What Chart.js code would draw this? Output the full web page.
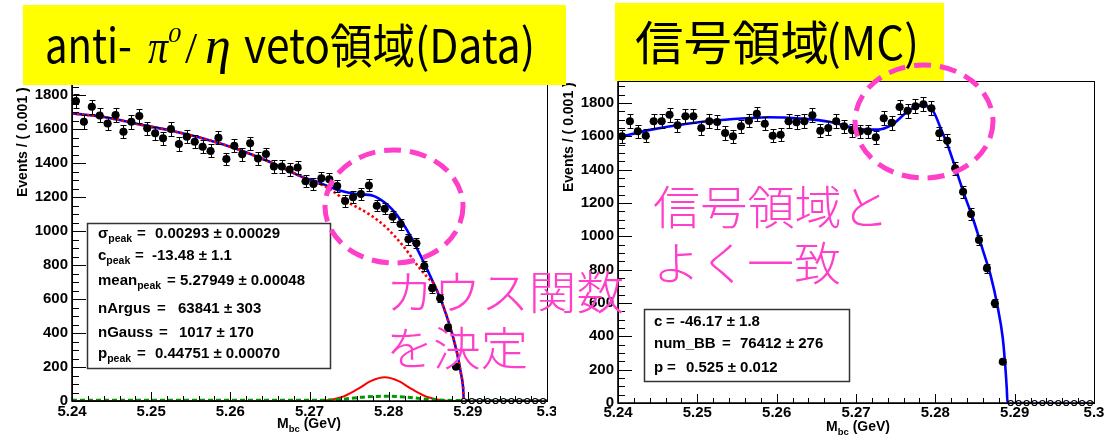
<!DOCTYPE html>
<html>
<head>
<meta charset="utf-8">
<script src="https://cdn.jsdelivr.net/npm/chart.js@4.4.1/dist/chart.umd.min.js"></script>
<style>
  html, body { margin: 0; padding: 0; background: #fff; }
  #page { position: relative; width: 1105px; height: 437px; overflow: hidden; background: #fff; }
  .pane { position: absolute; top: 0; height: 437px; overflow: hidden; }
  .pane canvas { display: block; }
  #overlay { position: absolute; left: 0; top: 0; pointer-events: none; }
</style>
</head>
<body>
<div id="page">
  <div class="pane" style="left:0;width:556px">
    <canvas id="vetoChart" width="600" height="437" style="width:600px;height:437px"></canvas>
  </div>
  <div class="pane" style="left:556px;width:549px">
    <canvas id="signalChart" width="600" height="437" style="width:600px;height:437px"></canvas>
  </div>
  <svg id="overlay" width="1105" height="437" xmlns="http://www.w3.org/2000/svg">
    <!-- panel headings -->
    <rect x="23" y="5" width="543" height="80" fill="#ffff00"/>
    <rect x="615" y="3" width="329" height="78" fill="#ffff00"/>
    <g font-family="'Noto Sans CJK JP', 'Noto Sans', sans-serif" fill="#000">
      <text x="45" y="63" font-size="47" textLength="87" lengthAdjust="spacingAndGlyphs">anti-</text>
      <text x="244" y="63" font-size="47" textLength="291" lengthAdjust="spacingAndGlyphs">veto領域(Data)</text>
      <text x="635" y="60" font-size="47" textLength="194" lengthAdjust="spacingAndGlyphs">信号領域</text>
      <text x="826" y="60" font-size="47" textLength="93" lengthAdjust="spacingAndGlyphs">(MC)</text>
    </g>
    <g font-family="'Liberation Serif', 'DejaVu Serif', serif" font-style="italic" fill="#000">
      <text x="148" y="63" font-size="48" textLength="20" lengthAdjust="spacingAndGlyphs">π</text>
      <text x="168" y="42" font-size="21" textLength="13" lengthAdjust="spacingAndGlyphs">0</text>
      <text x="185" y="63" font-size="44" font-style="normal">/</text>
      <text x="205" y="63" font-size="52">η</text>
    </g>
    <!-- highlighted regions -->
    <g fill="none" stroke="#ff3ec9" stroke-width="5" stroke-dasharray="17 9">
      <ellipse cx="394" cy="206.5" rx="69" ry="56.5"/>
      <ellipse cx="924" cy="121.5" rx="69" ry="56.5"/>
    </g>
    <g font-family="'Noto Sans CJK JP', sans-serif" font-weight="300" font-size="46" fill="#ff3ec9">
      <text x="386" y="309" textLength="238" lengthAdjust="spacingAndGlyphs">カウス関数</text>
      <text x="386" y="365" textLength="142" lengthAdjust="spacingAndGlyphs">を決定</text>
      <text x="653" y="224" textLength="236" lengthAdjust="spacingAndGlyphs">信号領域と</text>
      <text x="653" y="280" textLength="188" lengthAdjust="spacingAndGlyphs">よく一致</text>
    </g>
  </svg>
</div>
<script>
// Histogram binning and axis ticks
const histMin = 5.24;
const histMax = 5.30;
const binWidth = 0.001;
const xTickValues = [5.24, 5.25, 5.26, 5.27, 5.28, 5.29, 5.30];
const xTickLabels = ['5.24', '5.25', '5.26', '5.27', '5.28', '5.29', '5.3'];
const yTickValues = [0, 200, 400, 600, 800, 1000, 1200, 1400, 1600, 1800];

// Events per 1 MeV bin, anti-veto sideband (data)
const vetoCounts = [
  1765, 1642, 1731, 1680, 1633, 1682, 1584, 1643, 1676, 1604,
  1575, 1545, 1600, 1512, 1555, 1525, 1496, 1471, 1549, 1424,
  1502, 1451, 1516, 1427, 1453, 1380, 1380, 1362, 1373, 1292,
  1277, 1310, 1304, 1265, 1176, 1198, 1218, 1268, 1149, 1131,
  1084, 1041, 951, 928, 794, 663, 604, 433, 202, 0,
  0, 0, 0, 0, 0, 0, 0, 0, 0, 0
];

// Events per 1 MeV bin, signal region (MC)
const signalCounts = [
  1600, 1690, 1630, 1604, 1690, 1690, 1730, 1666, 1720, 1720,
  1650, 1690, 1686, 1620, 1600, 1660, 1694, 1736, 1676, 1604,
  1610, 1690, 1684, 1690, 1726, 1634, 1650, 1690, 1660, 1636,
  1630, 1630, 1594, 1709, 1681, 1776, 1754, 1781, 1792, 1769,
  1618, 1574, 1408, 1268, 1134, 978, 808, 598, 248, 0,
  0, 0, 0, 0, 0, 0, 0, 0, 0, 0
];

// Fitted curves, [Mbc, events]
const vetoTotalFit = [
  [5.2400, 1692], [5.2442, 1669], [5.2484, 1628], [5.2527, 1588], [5.2569, 1540],
  [5.2611, 1478], [5.2653, 1400], [5.2695, 1310], [5.2710, 1290], [5.2721, 1268],
  [5.2738, 1238], [5.2759, 1218], [5.2780, 1208], [5.2795, 1168], [5.2805, 1124],
  [5.2815, 1065], [5.2828, 967], [5.2843, 829], [5.2857, 690], [5.2868, 570],
  [5.2878, 430], [5.2886, 290], [5.2891, 170], [5.2894, 80], [5.2895, 0], [5.3000, 0]
];
const vetoArgusFit = [
  [5.2400, 1692], [5.2442, 1669], [5.2484, 1628], [5.2527, 1588], [5.2569, 1540],
  [5.2611, 1478], [5.2653, 1400], [5.2695, 1310], [5.2710, 1283], [5.2725, 1248],
  [5.2748, 1172], [5.2777, 1094], [5.2798, 1016], [5.2819, 908], [5.2836, 800],
  [5.2850, 722], [5.2857, 690], [5.2868, 570], [5.2878, 430], [5.2886, 290],
  [5.2891, 170], [5.2894, 80], [5.2895, 0], [5.3000, 0]
];
const vetoGaussFit = [
  [5.2400, 0], [5.2700, 0], [5.2720, 3], [5.2740, 22], [5.2760, 68], [5.2778, 118],
  [5.2795, 139], [5.2812, 118], [5.2830, 68], [5.2850, 22], [5.2870, 3], [5.2890, 0], [5.3000, 0]
];
const vetoPeakingFit = [
  [5.2400, 5], [5.2720, 5], [5.2745, 12], [5.2770, 24], [5.2795, 28], [5.2820, 24],
  [5.2845, 12], [5.2870, 5], [5.2895, 3], [5.3000, 2]
];
const signalTotalFit = [
  [5.2400, 1594], [5.2442, 1640], [5.2485, 1674], [5.2526, 1696], [5.2568, 1710],
  [5.2589, 1714], [5.2631, 1706], [5.2668, 1686], [5.2693, 1656], [5.2712, 1640],
  [5.2728, 1640], [5.2745, 1668], [5.2765, 1748], [5.2781, 1787], [5.2790, 1780],
  [5.2798, 1745], [5.2807, 1645], [5.2816, 1540], [5.2826, 1400], [5.2836, 1258],
  [5.2848, 1098], [5.2861, 900], [5.2870, 760], [5.2878, 590], [5.2885, 390],
  [5.2888, 230], [5.2890, 90], [5.2891, 0], [5.3000, 0]
];

// Fit results printed in the parameter boxes
const vetoStats = [
  { name: 'σ', sub: 'peak', value: '0.00293 ± 0.00029' },
  { name: 'c', sub: 'peak', value: '-13.48 ± 1.1' },
  { name: 'mean', sub: 'peak', value: '5.27949 ± 0.00048' },
  { name: 'nArgus', sub: '', value: '63841 ± 303' },
  { name: 'nGauss', sub: '', value: '1017 ± 170' },
  { name: 'p', sub: 'peak', value: '0.44751 ± 0.00070' }
];
const signalStats = [
  { name: 'c', sub: '', value: '-46.17 ± 1.8' },
  { name: 'num_BB', sub: '', value: '76412 ± 276' },
  { name: 'p', sub: '', value: '0.525 ± 0.012' }
];

const SANS = "'Liberation Sans', Arial, Helvetica, sans-serif";
Chart.defaults.font.family = SANS;
Chart.defaults.color = '#000';

function toPoints(pairs) {
  return pairs.map(([x, y]) => ({ x, y }));
}
function binPoints(counts) {
  return counts.map((c, i) => ({ x: +(histMin + (i + 0.5) * binWidth).toFixed(4), y: c }));
}
function curve(pairs, color, width, dash) {
  return {
    data: toPoints(pairs),
    showLine: true,
    borderColor: color,
    borderWidth: width,
    borderDash: dash || [],
    borderCapStyle: 'butt',
    pointRadius: 0,
    pointHoverRadius: 0,
    cubicInterpolationMode: 'monotone',
    fill: false
  };
}
function histogram(counts) {
  const empty = ctx => ctx.raw && ctx.raw.y === 0;
  return {
    data: binPoints(counts),
    showLine: false,
    clip: false,
    pointStyle: 'circle',
    pointRadius: ctx => (empty(ctx) ? 2.5 : 4),
    pointHoverRadius: ctx => (empty(ctx) ? 2.5 : 4),
    pointBackgroundColor: ctx => (empty(ctx) ? '#ffffff' : '#000000'),
    pointBorderColor: '#000000',
    pointBorderWidth: ctx => (empty(ctx) ? 1.2 : 0)
  };
}

// Draws a label with an optional subscript; returns the end x
function richText(ctx, x, y, name, sub, size, subSize, drop) {
  ctx.font = 'bold ' + size + 'px ' + SANS;
  ctx.fillText(name, x, y);
  let end = x + ctx.measureText(name).width;
  if (sub) {
    ctx.font = 'bold ' + subSize + 'px ' + SANS;
    ctx.fillText(sub, end, y + drop);
    end += ctx.measureText(sub).width;
  }
  return end;
}

// ROOT-like pad decoration: inward ticks, frame, error bars, axis titles, parameter box
const rootPad = {
  id: 'rootPad',
  beforeDatasetDraw(chart, args) {
    if (args.index !== 0) return;
    const { ctx, scales: { x, y } } = chart;
    const pts = chart.data.datasets[0].data;
    ctx.save();
    ctx.strokeStyle = '#000';
    ctx.lineWidth = 1;
    pts.forEach(p => {
      const px = Math.round(x.getPixelForValue(p.x)) + 0.5;
      const py = Math.round(y.getPixelForValue(p.y)) + 0.5;
      const x0 = x.getPixelForValue(p.x - binWidth / 2);
      const x1 = x.getPixelForValue(p.x + binWidth / 2);
      ctx.beginPath();
      ctx.moveTo(x0, py);
      ctx.lineTo(x1, py);
      if (p.y > 0) {
        const err = Math.sqrt(p.y);
        const yt = Math.round(y.getPixelForValue(p.y + err)) + 0.5;
        const yb = Math.round(y.getPixelForValue(p.y - err)) + 0.5;
        ctx.moveTo(px, yt); ctx.lineTo(px, yb);
        ctx.moveTo(px - 3, yt); ctx.lineTo(px + 3, yt);
        ctx.moveTo(px - 3, yb); ctx.lineTo(px + 3, yb);
      }
      ctx.stroke();
    });
    ctx.restore();
  },
  afterDatasetsDraw(chart, args, opts) {
    const { ctx, chartArea: a, scales: { x, y } } = chart;
    ctx.save();
    ctx.fillStyle = '#000';
    ctx.strokeStyle = '#000';

    // inward ticks on the y axis: major every 200, minor every 50
    ctx.lineWidth = 1;
    ctx.beginPath();
    for (let v = 0; v <= y.max; v += 50) {
      const py = Math.round(y.getPixelForValue(v)) + 0.5;
      const len = v % 200 === 0 ? 14 : 7;
      ctx.moveTo(a.left, py);
      ctx.lineTo(a.left + len, py);
    }
    // inward ticks on the x axis: major every 0.01, minor every 0.002
    for (let i = 0; i <= 30; i++) {
      const px = Math.round(x.getPixelForValue(histMin + i * 0.002)) + 0.5;
      const len = i % 5 === 0 ? 9 : 5;
      ctx.moveTo(px, a.bottom);
      ctx.lineTo(px, a.bottom - len);
    }
    ctx.stroke();

    // frame
    ctx.lineWidth = 1;
    ctx.strokeRect(Math.round(a.left) + 0.5, Math.round(a.top) + 0.5,
      Math.round(a.right - a.left), Math.round(a.bottom - a.top));
    ctx.lineWidth = 1.6;
    ctx.beginPath();
    ctx.moveTo(a.left, a.top);
    ctx.lineTo(a.left, a.bottom);
    ctx.lineTo(a.right, a.bottom);
    ctx.stroke();

    // axis titles
    ctx.textBaseline = 'alphabetic';
    ctx.textAlign = 'left';
    ctx.save();
    ctx.translate(opts.yTitle.x, opts.yTitle.y);
    ctx.rotate(-Math.PI / 2);
    ctx.font = 'bold 14px ' + SANS;
    ctx.fillText('Events / ( 0.001 )', 0, 0);
    ctx.restore();
    const mEnd = richText(ctx, opts.xTitle.x, opts.xTitle.y, 'M', 'bc', 14, 9.5, 4);
    ctx.font = 'bold 14px ' + SANS;
    ctx.fillText(' (GeV)', mEnd, opts.xTitle.y);

    // parameter box
    const s = opts.stat;
    ctx.fillStyle = '#fff';
    ctx.fillRect(s.box[0], s.box[1], s.box[2], s.box[3]);
    ctx.strokeStyle = '#333';
    ctx.lineWidth = 1.5;
    ctx.strokeRect(s.box[0] + 0.5, s.box[1] + 0.5, s.box[2], s.box[3]);
    ctx.fillStyle = '#000';
    s.entries.forEach((e, i) => {
      const row = s.rows[i];
      richText(ctx, s.textX, row.base, e.name, e.sub, 15, 10.5, 4);
      ctx.font = 'bold 15px ' + SANS;
      ctx.fillText('=', row.eq, row.base);
      ctx.fillText(e.value, row.val, row.base);
    });
    ctx.restore();
  }
};

function makePad(canvasId, cfg) {
  return new Chart(document.getElementById(canvasId), {
    type: 'scatter',
    data: { datasets: [histogram(cfg.counts)].concat(cfg.curves) },
    options: {
      responsive: false,
      animation: false,
      events: [],
      layout: { padding: { left: 0, right: cfg.padRight, top: cfg.padTop, bottom: 0 } },
      plugins: {
        legend: { display: false },
        tooltip: { enabled: false },
        rootPad: cfg.decor
      },
      scales: {
        x: {
          type: 'linear',
          min: histMin,
          max: histMax,
          afterBuildTicks: sc => { sc.ticks = xTickValues.map(v => ({ value: v })); },
          afterFit: sc => { sc.height = cfg.xAxisHeight; },
          grid: { display: false, drawTicks: false },
          border: { display: false },
          ticks: {
            autoSkip: false,
            maxRotation: 0,
            padding: cfg.xPad,
            font: { size: 15, weight: 'bold' },
            color: '#000',
            callback: (v, i) => xTickLabels[i]
          }
        },
        y: {
          type: 'linear',
          min: 0,
          max: cfg.yMax,
          afterBuildTicks: sc => { sc.ticks = yTickValues.map(v => ({ value: v })); },
          afterFit: sc => { sc.width = cfg.yAxisWidth; },
          grid: { display: false, drawTicks: false },
          border: { display: false },
          ticks: {
            autoSkip: false,
            padding: 4,
            font: { size: 15, weight: 'bold' },
            color: '#000',
            callback: v => String(v)
          }
        }
      }
    },
    plugins: [rootPad]
  });
}

// Left pad: anti-veto sideband
makePad('vetoChart', {
  counts: vetoCounts,
  curves: [
    curve(vetoArgusFit, '#ff0000', 2.6, [2.5, 2.5]),
    curve(vetoTotalFit, '#0000ff', 2.6),
    curve(vetoPeakingFit, '#009a00', 3, [5, 3]),
    curve(vetoGaussFit, '#ff0000', 2)
  ],
  yMax: 1880,
  padTop: 81.4,
  padRight: 53,
  xAxisHeight: 36,
  yAxisWidth: 72,
  xPad: 2,
  decor: {
    yTitle: { x: 27, y: 197 },
    xTitle: { x: 277, y: 428 },
    stat: {
      box: [87, 223, 243, 145],
      textX: 98,
      entries: vetoStats,
      rows: [
        { base: 238, eq: 137, val: 155 },
        { base: 260, eq: 135, val: 152 },
        { base: 285, eq: 167, val: 180 },
        { base: 313, eq: 157, val: 178 },
        { base: 337, eq: 159, val: 179 },
        { base: 358, eq: 137, val: 155 }
      ]
    }
  }
});

// Right pad: signal region
makePad('signalChart', {
  counts: signalCounts,
  curves: [
    curve(signalTotalFit, '#0000ff', 2.6)
  ],
  yMax: 1930,
  padTop: 81.3,
  padRight: 62,
  xAxisHeight: 34,
  yAxisWidth: 62,
  xPad: 1,
  decor: {
    yTitle: { x: 17, y: 192 },
    xTitle: { x: 270, y: 431 },
    stat: {
      box: [88, 309, 205, 72],
      textX: 98,
      entries: signalStats,
      rows: [
        { base: 326, eq: 110, val: 124 },
        { base: 348, eq: 166, val: 184 },
        { base: 372, eq: 111, val: 130 }
      ]
    }
  }
});
</script>
</body>
</html>
